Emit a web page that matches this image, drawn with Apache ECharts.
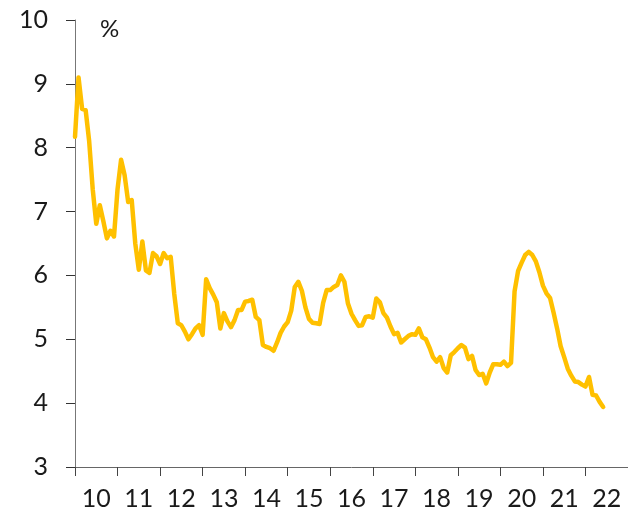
<!DOCTYPE html>
<html>
<head>
<meta charset="utf-8">
<script src="https://cdn.jsdelivr.net/npm/echarts@6/dist/echarts.min.js"></script>
<style>
html,body{margin:0;padding:0;background:#fff;}
#c{width:628px;height:522px;}
</style>
</head>
<body>
<div id="c"></div>
<script>
// Monthly values, Jan 2010 .. Jun 2022 (%)
var values = [
  8.17, 9.10, 8.61, 8.59, 8.10, 7.35, 6.81, 7.10, 6.85, 6.58, 6.70, 6.61,
  7.35, 7.81, 7.57, 7.15, 7.18, 6.50, 6.09, 6.53, 6.08, 6.04, 6.35, 6.30,
  6.18, 6.35, 6.27, 6.29, 5.71, 5.25, 5.22, 5.12, 5.00, 5.08, 5.17, 5.22,
  5.07, 5.94, 5.80, 5.70, 5.58, 5.17, 5.41, 5.28, 5.19, 5.30, 5.46, 5.46,
  5.59, 5.60, 5.62, 5.35, 5.30, 4.91, 4.88, 4.86, 4.82, 4.95, 5.10, 5.20,
  5.27, 5.45, 5.82, 5.90, 5.76, 5.50, 5.32, 5.26, 5.25, 5.24, 5.57, 5.77,
  5.77, 5.82, 5.85, 6.00, 5.90, 5.56, 5.40, 5.30, 5.21, 5.22, 5.35, 5.36,
  5.34, 5.64, 5.58, 5.41, 5.34, 5.20, 5.08, 5.10, 4.95, 5.00, 5.05, 5.08,
  5.07, 5.17, 5.03, 5.00, 4.87, 4.72, 4.65, 4.72, 4.55, 4.48, 4.75, 4.80,
  4.86, 4.91, 4.87, 4.69, 4.74, 4.52, 4.44, 4.46, 4.31, 4.48, 4.61, 4.61,
  4.60, 4.65, 4.58, 4.63, 5.75, 6.07, 6.20, 6.32, 6.37, 6.32, 6.22, 6.05,
  5.84, 5.72, 5.65, 5.42, 5.17, 4.89, 4.72, 4.54, 4.43, 4.34, 4.33, 4.29,
  4.26, 4.41, 4.13, 4.12, 4.02, 3.94
];
var startYear = 2010;
var endYear = 2023; // axis runs to Jan 2023
var yTicks = [3, 4, 5, 6, 7, 8, 9, 10];
var unitLabel = '%';

// month categories Jan 2010 .. Jan 2023
var months = [];
for (var y = startYear; y <= endYear; y++) {
  for (var m = 1; m <= 12; m++) {
    months.push(y + '-' + (m < 10 ? '0' + m : m));
    if (y === endYear) break;
  }
}

var FONT = 'Lato';
var chart = echarts.init(document.getElementById('c'), null, {renderer: 'canvas'});
chart.setOption({
  animation: false,
  backgroundColor: '#ffffff',
  grid: {left: 75, top: 20, width: 555, height: 447, containLabel: false},
  xAxis: {
    type: 'category',
    data: months,
    boundaryGap: false,
    axisLine: {show: true, lineStyle: {color: '#666', width: 1}},
    axisTick: {
      show: true, length: 9,
      interval: function (i) { return i % 12 === 0; },
      lineStyle: {color: '#444', width: 1}
    },
    axisLabel: {
      show: true,
      interval: function (i) { return i % 12 === 6; },
      formatter: function (v) { return v.slice(2, 4); },
      fontFamily: FONT, fontSize: 25, color: '#1a1a1a', margin: 19
    },
    splitLine: {show: false}
  },
  yAxis: {
    type: 'value',
    min: yTicks[0], max: yTicks[yTicks.length - 1], interval: 1,
    axisLine: {show: true, lineStyle: {color: '#777', width: 1}},
    axisTick: {show: true, length: 9, lineStyle: {color: '#333', width: 1}},
    axisLabel: {fontFamily: FONT, fontSize: 25, color: '#1a1a1a', margin: 27},
    splitLine: {show: false}
  },
  graphic: [{
    type: 'text', left: 100, top: 17,
    style: {text: unitLabel, font: '24px ' + FONT, fill: '#1a1a1a'}
  }],
  series: [{
    type: 'line',
    data: values,
    showSymbol: false,
    symbol: 'none',
    smooth: false,
    lineStyle: {color: '#FFC000', width: 4.5, join: 'round', cap: 'round'},
    itemStyle: {color: '#FFC000'}
  }]
});
</script>
</body>
</html>
